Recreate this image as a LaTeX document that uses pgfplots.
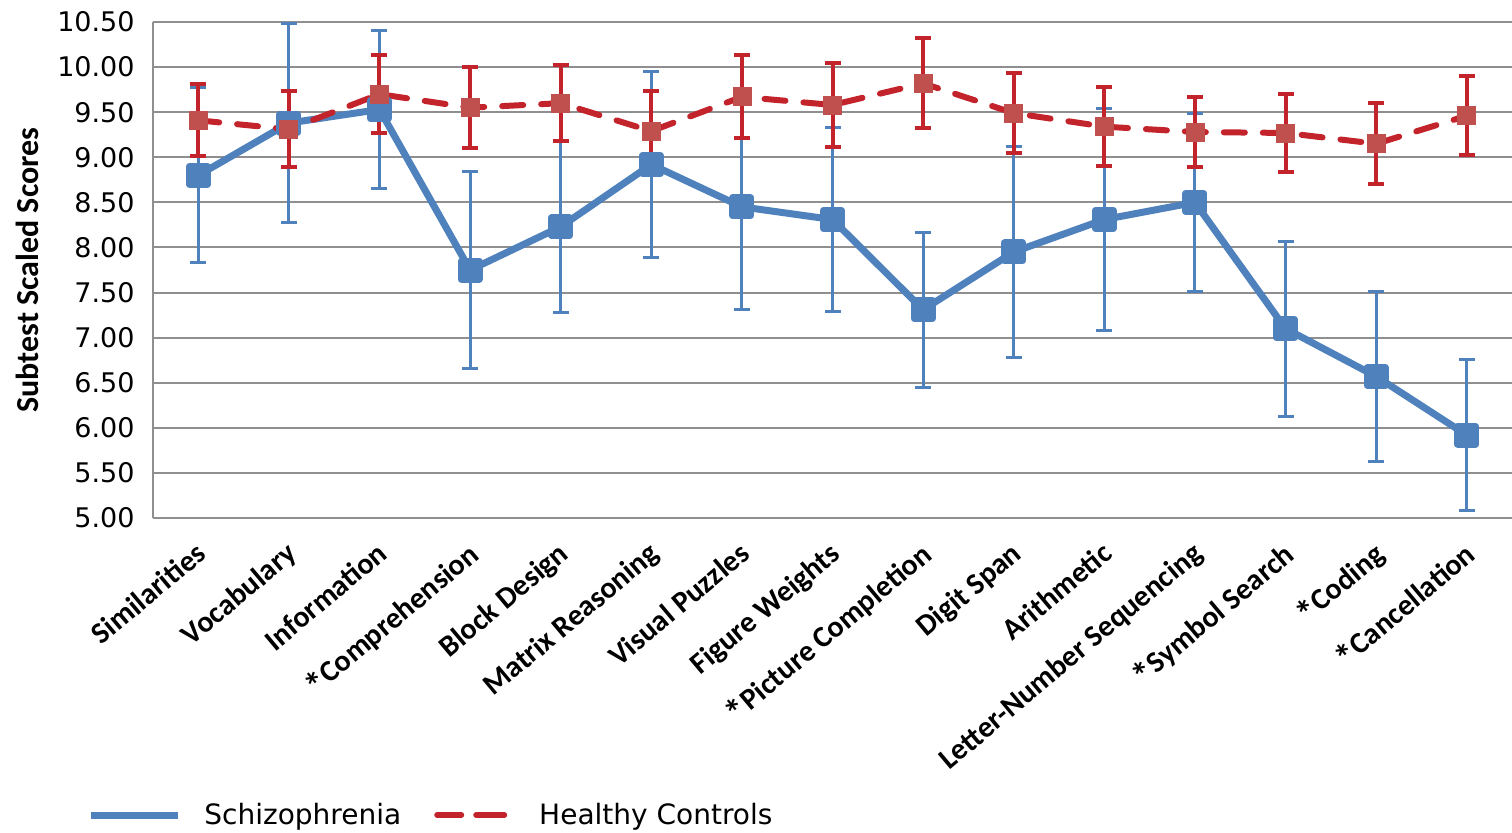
\documentclass[border=0pt]{standalone}
\usepackage{fontspec}
\setmainfont{Carlito}
\newfontfamily\djv{DejaVu Sans}
\usepackage{pgfplots}
\usepackage{pgfplotstable}
\pgfplotsset{compat=1.18}

\definecolor{schblue}{HTML}{4F81BD}
\definecolor{hcred}{HTML}{C3232B}
\definecolor{hcmark}{HTML}{C0504D}
\definecolor{gridgray}{HTML}{8F8F8F}

\newcommand{\sig}{\raisebox{-0.32ex}{\fontsize{19}{19}\selectfont *}}

% mean and half-length of error bar
\pgfplotstableread{
x y e
0 8.80 0.97
1 9.38 1.10
2 9.53 0.88
3 7.75 1.09
4 8.23 0.95
5 8.92 1.03
6 8.45 1.14
7 8.31 1.02
8 7.31 0.86
9 7.95 1.17
10 8.31 1.23
11 8.50 0.99
12 7.10 0.97
13 6.57 0.94
14 5.92 0.84
}\schz

\pgfplotstableread{
x y e
0 9.41 0.40
1 9.31 0.42
2 9.70 0.43
3 9.55 0.45
4 9.60 0.42
5 9.29 0.44
6 9.67 0.46
7 9.58 0.47
8 9.82 0.50
9 9.49 0.44
10 9.34 0.44
11 9.28 0.39
12 9.27 0.43
13 9.15 0.45
14 9.46 0.44
}\ctrl

\begin{document}
\begin{tikzpicture}
\begin{axis}[
    scale only axis,
    width=679.5pt, height=248pt,
    xmin=-0.5, xmax=14.5,
    ymin=5, ymax=10.5,
    ytick={5,5.5,...,10.5},
    xtick={0,...,14},
    xticklabels={Similarities, Vocabulary, Information, \sig Comprehension,
      Block Design, Matrix Reasoning, Visual Puzzles, Figure Weights,
      \sig Picture Completion, Digit Span, Arithmetic, Letter-Number Sequencing,
      \sig Symbol Search, \sig Coding, \sig Cancellation},
    axis lines*=left,
    axis line style={gridgray, line width=1pt},
    ymajorgrids,
    grid style={gridgray, line width=1pt},
    major tick length=0pt,
    tick style={draw=none},
    clip=false,
    /pgf/number format/.cd, fixed, fixed zerofill, precision=2, assume math mode=true,
    /pgfplots/.cd,
    yticklabel style={font=\djv\fontsize{13.5}{16}\selectfont, anchor=east, inner sep=0pt, xshift=-9pt},
    xticklabel style={font=\bfseries\fontsize{15}{18}\selectfont, xshift=-2pt, yshift=-11pt,
      rotate=40, anchor=north east, inner sep=0pt},
    ylabel={Subtest Scaled Scores},
    every axis y label/.style={at={(0,0.5)}, xshift=-63pt, rotate=90, anchor=center,
      font=\bfseries\fontsize{16}{19}\selectfont},
    legend columns=2,
    legend style={at={(0,0)}, anchor=west, xshift=-33pt, yshift=-148.5pt,
      draw=none, fill=none, inner sep=0pt, nodes={inner sep=0pt},
      font=\djv\fontsize{14}{17}\selectfont},
    /tikz/every odd column/.append style={column sep=11.5pt},
    /tikz/every even column/.append style={column sep=16.5pt},
  ]
  \addplot[schblue, line width=3.5pt, line join=round,
    mark=square*, mark size=4.5pt, mark options={solid, schblue},
    error bars/.cd, y dir=both, y explicit, error mark=-,
      error bar style={line width=1.5pt, schblue},
      error mark options={rotate=90, line width=1.5pt, schblue, mark size=4pt},
    /pgfplots/.cd,
    legend image code/.code={\draw[schblue, line width=3.5pt] (0pt,0pt) -- (43.5pt,0pt);}]
    table[x=x, y=y, y error=e]{\schz};
  \addlegendentry{Schizophrenia}
  \addplot[only marks, mark=square*, mark size=4.5pt, mark options={solid, hcmark, fill=hcmark}, forget plot]
    table[x=x, y=y]{\ctrl};
  \addplot[hcred, line width=3pt, line cap=round, dash pattern=on 10.5pt off 9pt, mark=none,
    error bars/.cd, y dir=both, y explicit, error mark=-,
      error bar style={line width=2pt, solid, hcred, line cap=butt},
      error mark options={rotate=90, line width=2pt, solid, hcred, mark size=4pt, line cap=butt},
    /pgfplots/.cd,
    legend image code/.code={\draw[hcred, line width=3pt, line cap=round] (1.5pt,0pt) -- (14pt,0pt);
      \draw[hcred, line width=3pt, line cap=round] (23pt,0pt) -- (34pt,0pt);
      \path (0pt,0pt) -- (38pt,0pt);}]
    table[x=x, y=y, y error=e]{\ctrl};
  \addlegendentry{Healthy Controls}
\end{axis}
\pgfresetboundingbox
\useasboundingbox (-76.5pt,-157pt) rectangle (679.5pt,259pt);
\end{tikzpicture}
\end{document}
